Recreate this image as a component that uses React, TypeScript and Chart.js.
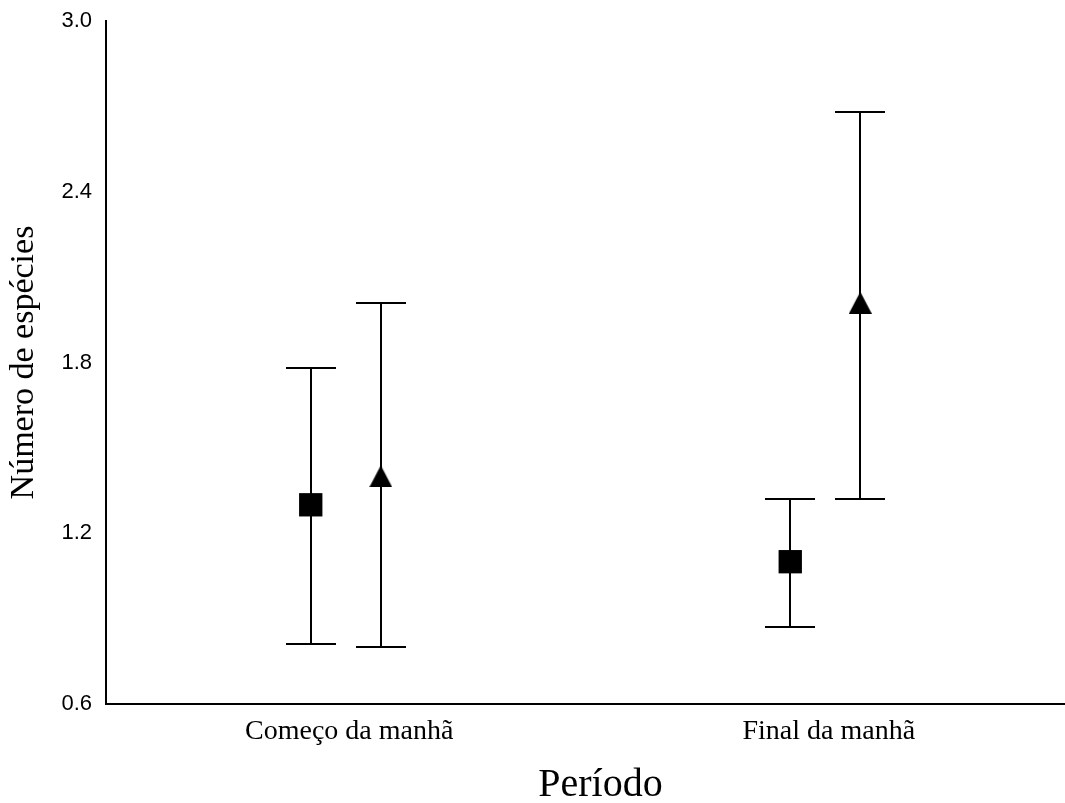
import React, { useEffect, useRef } from "react";
import { Chart, registerables } from "chart.js";

Chart.register(...registerables);

const categories = ["Começo da manhã", "Final da manhã"];
const yTicks = [0.6, 1.2, 1.8, 2.4, 3.0];

const squareMean = [1.3, 1.1];
const squareLow = [0.81, 0.87];
const squareHigh = [1.78, 1.32];

const triMean = [1.4, 2.01];
const triLow = [0.8, 1.32];
const triHigh = [2.01, 2.68];

const GROUP_OFFSET = 0.073;

function makeTriangle(): HTMLCanvasElement {
  const c = document.createElement("canvas");
  c.width = 23;
  c.height = 22;
  const ctx = c.getContext("2d")!;
  ctx.fillStyle = "#000";
  ctx.beginPath();
  ctx.moveTo(11.5, 0);
  ctx.lineTo(23, 22);
  ctx.lineTo(0, 22);
  ctx.closePath();
  ctx.fill();
  return c;
}

const errorBarPlugin = {
  id: "errorBars",
  beforeDatasetsDraw(chart: any) {
    const ctx = chart.ctx;
    const xs = chart.scales.x;
    const ys = chart.scales.y;
    ctx.save();
    ctx.strokeStyle = "#000";
    ctx.lineWidth = 2;
    chart.data.datasets.forEach((ds: any) => {
      ds.data.forEach((p: any) => {
        const x = Math.round(xs.getPixelForValue(p.x));
        const yl = Math.round(ys.getPixelForValue(p.low));
        const yh = Math.round(ys.getPixelForValue(p.high));
        ctx.beginPath();
        ctx.moveTo(x, yl);
        ctx.lineTo(x, yh);
        ctx.moveTo(x - 25, yl);
        ctx.lineTo(x + 25, yl);
        ctx.moveTo(x - 25, yh);
        ctx.lineTo(x + 25, yh);
        ctx.stroke();
      });
    });
    ctx.restore();
  },
};

export default function App() {
  const ref = useRef<HTMLCanvasElement>(null);

  useEffect(() => {
    document.body.style.margin = "0";
    document.body.style.overflow = "hidden";
    const tri = makeTriangle();
    const sqData = categories.map((_, i) => ({
      x: i + 1 - GROUP_OFFSET,
      y: squareMean[i],
      low: squareLow[i],
      high: squareHigh[i],
    }));
    const triData = categories.map((_, i) => ({
      x: i + 1 + GROUP_OFFSET,
      y: triMean[i],
      low: triLow[i],
      high: triHigh[i],
    }));
    const chart = new Chart(ref.current!, {
      type: "scatter",
      data: {
        datasets: [
          {
            label: "square",
            data: sqData,
            pointStyle: "rect",
            pointRadius: 16.5,
            pointHoverRadius: 16.5,
            backgroundColor: "#000",
            borderWidth: 0,
          },
          {
            label: "triangle",
            data: triData,
            pointStyle: tri as any,
            pointRadius: 11,
            backgroundColor: "#000",
            borderWidth: 0,
          },
        ],
      },
      options: {
        animation: false,
        responsive: false,
        devicePixelRatio: 1,
        layout: {
          autoPadding: false,
          padding: { top: 21, right: 0, left: 0, bottom: 0 },
        },
        plugins: {
          legend: { display: false },
          tooltip: { enabled: false },
        },
        scales: {
          x: {
            type: "linear",
            min: 0.5,
            max: 2.5,
            grid: { display: false, drawTicks: false },
            border: { display: true, color: "#000", width: 2 },
            afterBuildTicks: (s: any) => {
              s.ticks = categories.map((_, i) => ({ value: i + 1 }));
            },
            afterFit: (s: any) => {
              s.height = 99;
              s.paddingLeft = 0;
              s.paddingRight = 0;
            },
            ticks: {
              color: "#000",
              padding: 11,
              font: { family: "Liberation Serif", size: 28 },
              callback: (v: any) => " " + (categories[Math.round(v) - 1] ?? ""),
              maxRotation: 0,
              autoSkip: false,
            },
            title: {
              display: true,
              text: "   Período",
              color: "#000",
              font: { family: "Liberation Serif", size: 40 },
              padding: { top: 0, bottom: -6 },
            },
          },
          y: {
            type: "linear",
            min: 0.6,
            max: 3.0,
            grid: { display: false, drawTicks: false },
            border: { display: true, color: "#000", width: 2 },
            afterBuildTicks: (s: any) => {
              s.ticks = yTicks.map((v) => ({ value: v }));
            },
            afterFit: (s: any) => {
              s.width = 106;
              s.paddingTop = 0;
              s.paddingBottom = 0;
            },
            ticks: {
              color: "#000",
              padding: 14,
              font: { family: "Liberation Sans", size: 22 },
              callback: (v: any) => Number(v).toFixed(1),
            },
            title: {
              display: true,
              text: "Número de espécies",
              color: "#000",
              font: { family: "Liberation Serif", size: 34 },
              padding: { top: 4, bottom: 0 },
            },
          },
        },
      },
      plugins: [errorBarPlugin],
    });
    return () => chart.destroy();
  }, []);

  return (
    <div style={{ width: 1065, height: 803 }}>
      <canvas ref={ref} width={1065} height={803} />
    </div>
  );
}
